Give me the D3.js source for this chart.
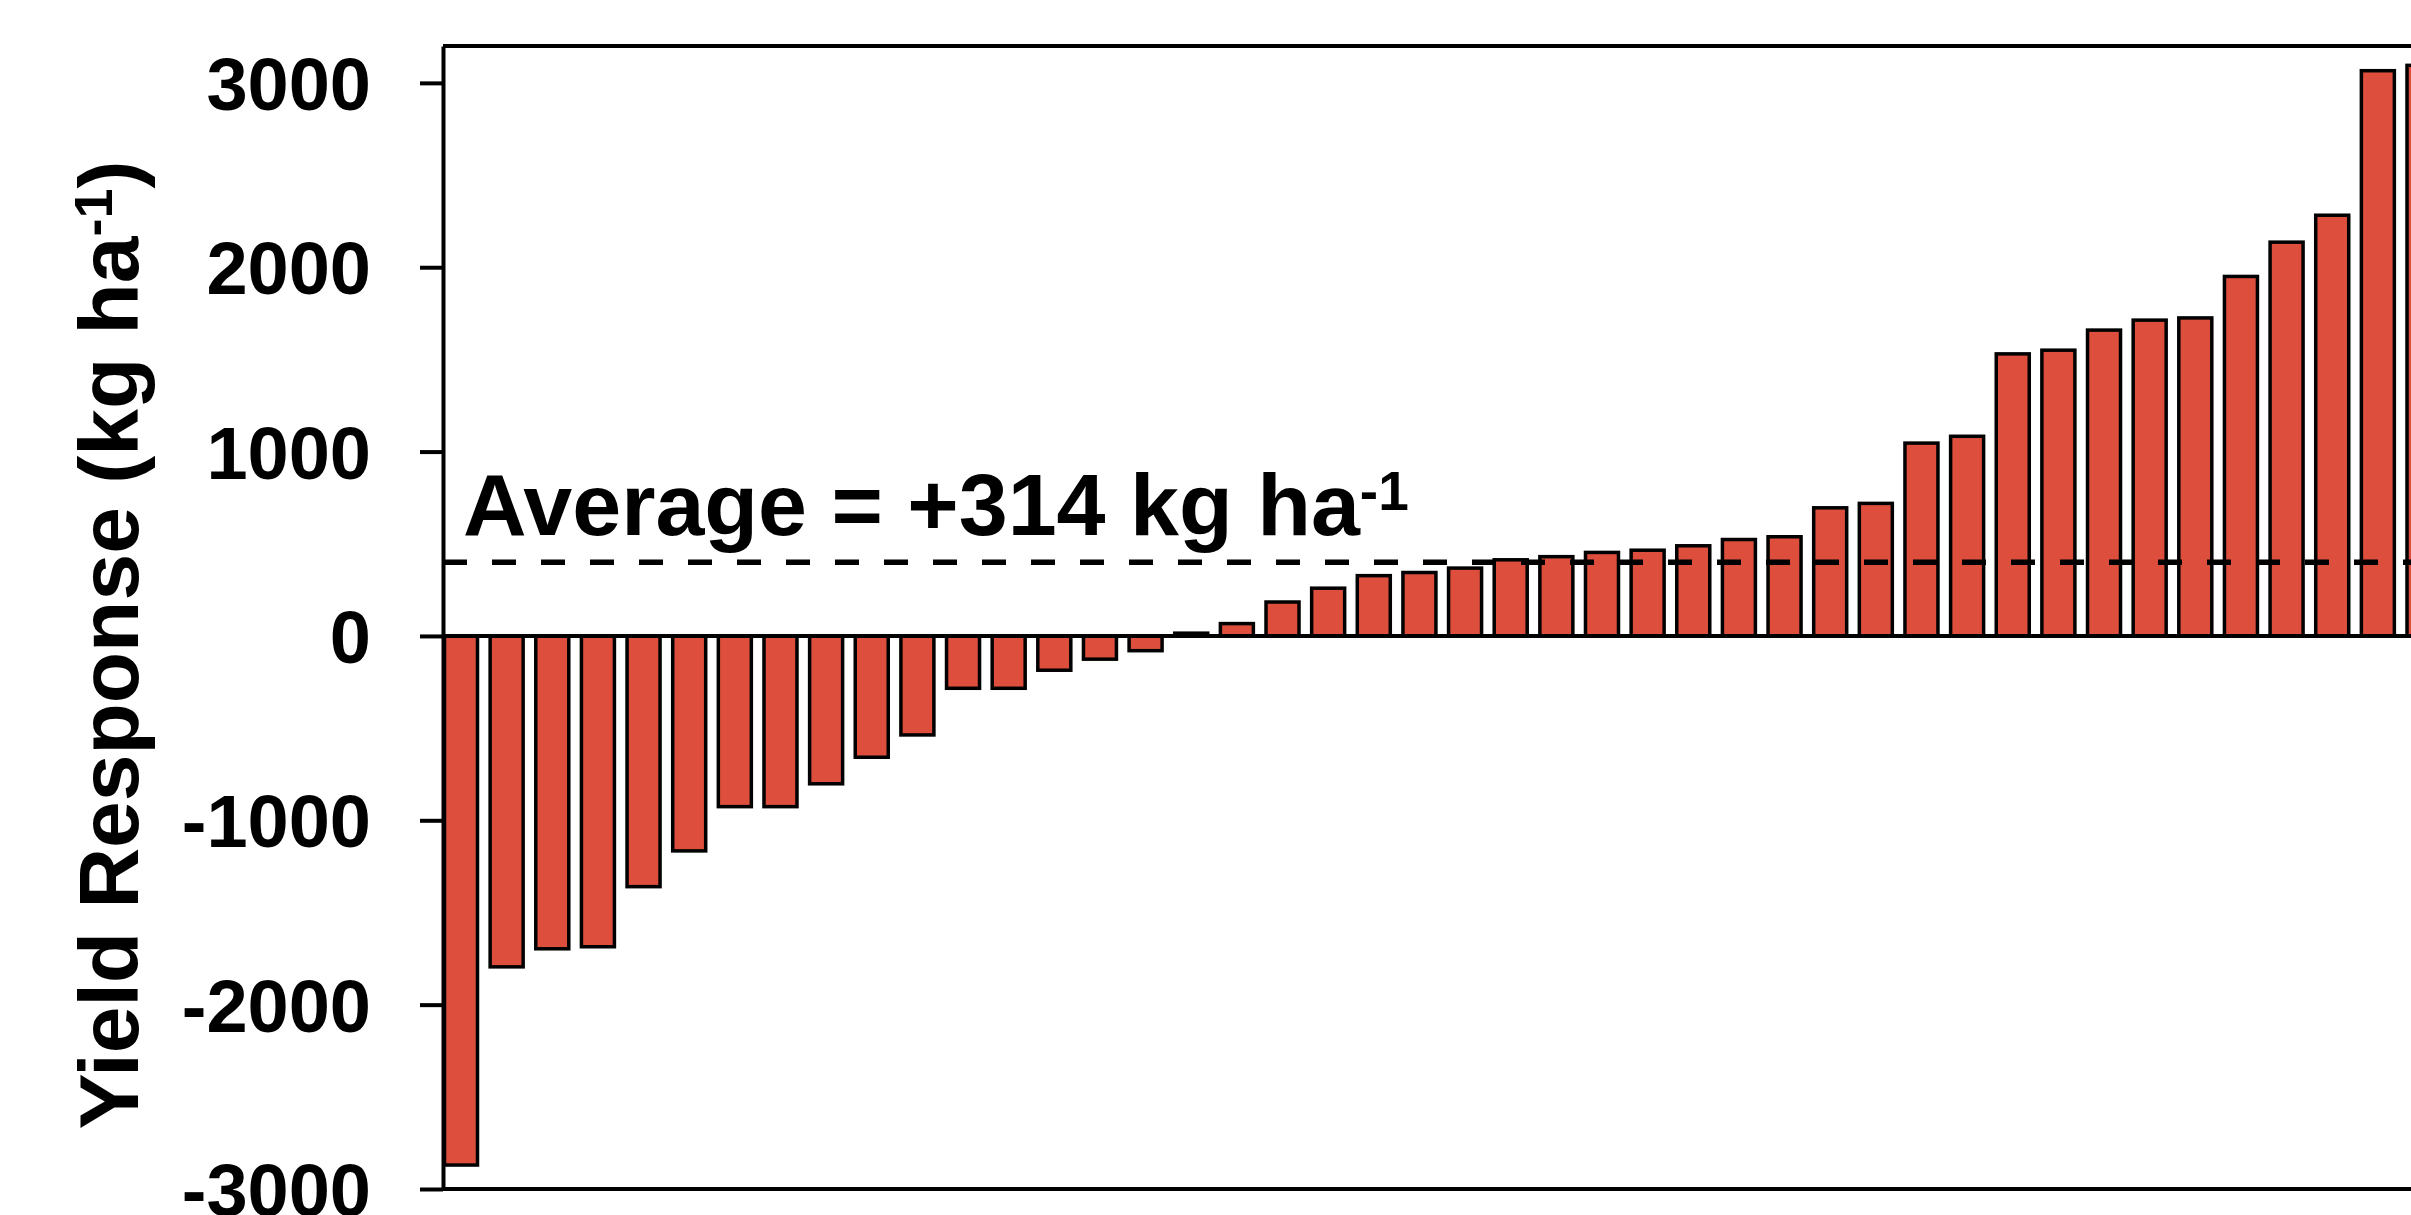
<!DOCTYPE html>
<html>
<head>
<meta charset="utf-8">
<script src="https://cdn.jsdelivr.net/npm/d3@7"></script>
<style>
  body { margin: 0; background: #fff; }
  svg text { font-family: "Liberation Sans", Arial, sans-serif; font-weight: bold; fill: #000; }
  .yAxis path, .yAxis line { stroke: #000; stroke-width: 4; }
  .yAxis text { font-size: 74px; }
  .bar { fill: #dd4f3c; stroke: #000; stroke-width: 3.5; }
</style>
</head>
<body>
<div id="chart"></div>
<script>
// yield response per site, sorted low to high (kg/ha)
var sites = d3.range(1, 45);
var yieldResponse = [-2870, -1795, -1697, -1686, -1360, -1166, -926, -926, -802, -658,
  -537, -284, -284, -186, -126, -80, 15, 67, 184, 259,
  327, 344, 368, 413, 430, 453, 465, 489, 523, 538,
  695, 719, 1046, 1083, 1530, 1550, 1659, 1713, 1725, 1950,
  2136, 2282, 3066, 3095];
var yTicks = [-3000, -2000, -1000, 0, 1000, 2000, 3000];
var yDomain = [-3000, 3200];
// the dashed line sits a bit above the number printed in the label
var averageLine = 400;
var averageLabel = "Average = +314 kg ha";
var unitSup = "-1";
var yLabel = "Yield Response (kg ha";

var width = 2411, height = 1215;
var margin = {top: 46, left: 443, bottom: 26};

var svg = d3.select("#chart").append("svg")
    .attr("width", width)
    .attr("height", height);

var xScale = d3.scaleBand()
    .domain(sites)
    .range([margin.left + 1.5, 2440])
    .paddingInner(0.277)
    .paddingOuter(0);

var yScale = d3.scaleLinear()
    .domain(yDomain)
    .range([height - margin.bottom, margin.top]);

// bars
svg.selectAll("rect.bar")
    .data(yieldResponse)
    .enter()
    .append("rect")
    .attr("class", "bar")
    .attr("x", function(d, i) { return xScale(sites[i]); })
    .attr("width", xScale.bandwidth())
    .attr("y", function(d) { return yScale(Math.max(0, d)); })
    .attr("height", function(d) { return Math.abs(yScale(d) - yScale(0)); });

// frame: top, bottom and zero line run off the right edge
var frameRight = width + 50;
[yDomain[1], yDomain[0], 0].forEach(function(v) {
  svg.append("line")
      .attr("x1", margin.left)
      .attr("x2", frameRight)
      .attr("y1", yScale(v))
      .attr("y2", yScale(v))
      .style("stroke", "#000")
      .style("stroke-width", 4);
});

// y axis
var yAxis = d3.axisLeft(yScale)
    .tickValues(yTicks)
    .tickFormat(function(d) { return String(d); })
    .tickSize(23)
    .tickSizeOuter(0)
    .tickPadding(49);

svg.append("g")
    .attr("class", "yAxis")
    .attr("transform", "translate(" + margin.left + ",0)")
    .call(yAxis)
    .selectAll("text")
    .attr("dy", "0.36em");

// average dashed line, drawn over the bars
svg.append("line")
    .attr("x1", margin.left)
    .attr("x2", frameRight)
    .attr("y1", yScale(averageLine))
    .attr("y2", yScale(averageLine))
    .style("stroke", "#000")
    .style("stroke-width", 5.5)
    .style("stroke-dasharray", "24,25");

var avgText = svg.append("text")
    .attr("x", 463)
    .attr("y", 535)
    .style("font-size", "88px");
avgText.append("tspan").text(averageLabel);
avgText.append("tspan")
    .attr("dy", -25)
    .style("font-size", "55px")
    .text(unitSup);

// y axis title
var yTitle = svg.append("text")
    .attr("transform", "translate(138," + 645 + ") rotate(-90)")
    .attr("text-anchor", "middle")
    .style("font-size", "84px");
yTitle.append("tspan").text(yLabel);
yTitle.append("tspan")
    .attr("dy", -26)
    .style("font-size", "54px")
    .text(unitSup);
yTitle.append("tspan")
    .attr("dy", 26)
    .text(")");
</script>
</body>
</html>
